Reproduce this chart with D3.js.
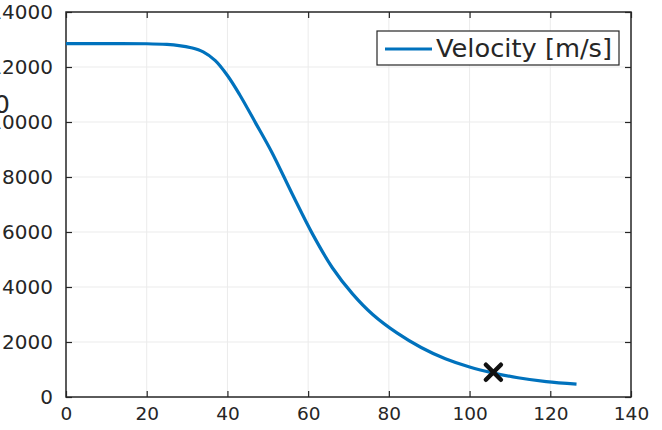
<!DOCTYPE html>
<html>
<head>
<meta charset="utf-8">
<script src="https://cdn.jsdelivr.net/npm/d3@7"></script>
<style>
  html, body { margin: 0; padding: 0; background: #fff; overflow: hidden; }
  svg { display: block; }
  text { font-family: "DejaVu Sans", sans-serif; fill: #262626; }
</style>
</head>
<body>
<svg id="chart" width="662" height="430"></svg>
<script>
// ---- data ----
const timeX = [0, 10, 20, 25, 28, 31, 34, 37, 40, 43, 47, 51, 56, 61, 66, 71, 76, 82, 88, 94, 100, 106, 112, 119, 126.5];
const velocity = [12850, 12850, 12845, 12820, 12780, 12700, 12550, 12230, 11690, 11000, 9960, 8900, 7400, 5950, 4700, 3750, 3000, 2330, 1800, 1390, 1090, 870, 700, 560, 470];
const markerX = [105.9];
const markerY = [900];
const xTicks = [0, 20, 40, 60, 80, 100, 120, 140];
const yTicks = [0, 2000, 4000, 6000, 8000, 10000, 12000, 14000];
const legendLabel = "Velocity [m/s]";

// ---- layout ----
const svg = d3.select("#chart");
const mLeft = 66, mRight = 631, mTop = 12, mBottom = 397;
const x = d3.scaleLinear().domain([0, 140]).range([mLeft, mRight]);
const y = d3.scaleLinear().domain([0, 14000]).range([mBottom, mTop]);
const axisColor = "#262626";

// grid
const grid = svg.append("g");
grid.selectAll(".gx").data(xTicks.slice(1, -1)).join("line")
  .attr("x1", d => x(d)).attr("x2", d => x(d))
  .attr("y1", mTop).attr("y2", mBottom)
  .attr("stroke", "#ebebeb").attr("stroke-width", 1);
grid.selectAll(".gy").data(yTicks.slice(1, -1)).join("line")
  .attr("x1", mLeft).attr("x2", mRight)
  .attr("y1", d => y(d)).attr("y2", d => y(d))
  .attr("stroke", "#ebebeb").attr("stroke-width", 1);

// axes (ticks inward)
const tickLen = 6;
const fmt = d3.format("d");
const xAxis = d3.axisBottom(x).tickValues(xTicks).tickFormat(fmt).tickSize(-tickLen).tickPadding(10);
const yAxis = d3.axisLeft(y).tickValues(yTicks).tickFormat(fmt).tickSize(-tickLen).tickPadding(13);
const gx = svg.append("g").attr("transform", `translate(0,${mBottom})`).call(xAxis);
const gy = svg.append("g").attr("transform", `translate(${mLeft},0)`).call(yAxis);
const gxTop = svg.append("g").attr("transform", `translate(0,${mTop})`)
  .call(d3.axisTop(x).tickValues(xTicks).tickSize(-tickLen).tickFormat(""));
const gyRight = svg.append("g").attr("transform", `translate(${mRight},0)`)
  .call(d3.axisRight(y).tickValues(yTicks).tickSize(-tickLen).tickFormat(""));
[gx, gy, gxTop, gyRight].forEach(g => {
  g.select(".domain").remove();
  g.selectAll(".tick line").attr("stroke", axisColor).attr("stroke-width", 1.2);
  g.selectAll("text").attr("fill", "#262626")
    .attr("font-family", "DejaVu Sans, sans-serif");
});
gx.selectAll(".tick text").attr("dy", "0.71em").attr("font-size", 18.5);
gy.selectAll(".tick text").attr("font-size", 20);

// box
svg.append("rect").attr("x", mLeft).attr("y", mTop)
  .attr("width", mRight - mLeft).attr("height", mBottom - mTop)
  .attr("fill", "none").attr("stroke", axisColor).attr("stroke-width", 1.5);

// line
const pts = timeX.map((t, i) => [t, velocity[i]]);
const line = d3.line().x(d => x(d[0])).y(d => y(d[1])).curve(d3.curveCatmullRom.alpha(0.5));
svg.append("path").datum(pts).attr("d", line)
  .attr("fill", "none").attr("stroke", "#0072BD").attr("stroke-width", 3.2)
  .attr("stroke-linejoin", "round");

// marker
const ms = 7.5;
const mk = svg.append("g");
markerX.forEach((mx, i) => {
  const cx = x(mx), cy = y(markerY[i]);
  mk.append("path")
    .attr("d", `M${cx - ms},${cy - ms}L${cx + ms},${cy + ms}M${cx - ms},${cy + ms}L${cx + ms},${cy - ms}`)
    .attr("stroke", "#111").attr("stroke-width", 4.5).attr("stroke-linecap", "round");
});

// legend
const lg = svg.append("g");
lg.append("rect").attr("x", 377).attr("y", 31).attr("width", 242).attr("height", 34)
  .attr("fill", "#fff").attr("stroke", axisColor).attr("stroke-width", 1.2);
lg.append("line").attr("x1", 385).attr("x2", 432).attr("y1", 49).attr("y2", 49)
  .attr("stroke", "#0072BD").attr("stroke-width", 3.2);
lg.append("text").attr("x", 436).attr("y", 48).attr("dy", "0.35em")
  .attr("font-size", 25).attr("textLength", 176).attr("lengthAdjust", "spacingAndGlyphs")
  .text(legendLabel);

// clipped partial glyph at left edge (from a neighbouring label)
svg.append("text").attr("x", -6).attr("y", 113).attr("font-size", 25).text("0");
</script>
</body>
</html>
